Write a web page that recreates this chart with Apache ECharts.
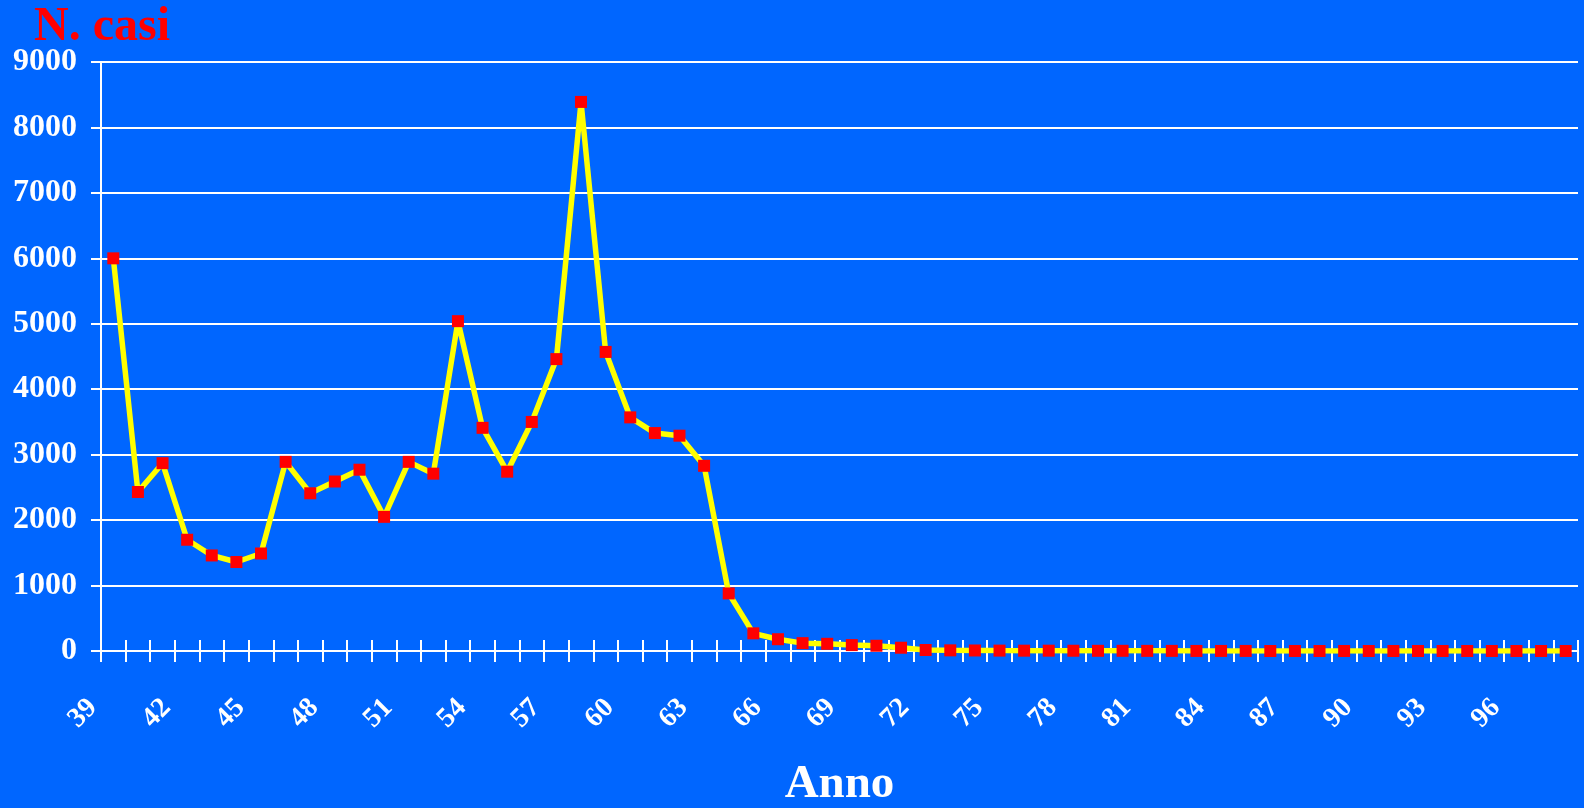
<!DOCTYPE html>
<html>
<head>
<meta charset="utf-8">
<script src="https://cdn.jsdelivr.net/npm/echarts@6/dist/echarts.min.js"></script>
<style>
html,body{margin:0;padding:0;background:#0066FF;}
#c{width:1584px;height:808px;}
</style>
</head>
<body>
<div id="c"></div>
<script>
const years = ['39','40','41','42','43','44','45','46','47','48','49','50','51','52','53','54','55','56','57','58','59','60','61','62','63','64','65','66','67','68','69','70','71','72','73','74','75','76','77','78','79','80','81','82','83','84','85','86','87','88','89','90','91','92','93','94','95','96','97','98'];
const cases = [6000,2430,2870,1700,1460,1360,1490,2890,2410,2590,2770,2050,2890,2710,5040,3410,2740,3500,4460,8390,4570,3570,3330,3290,2830,880,270,180,120,110,90,80,50,15,10,8,6,5,5,4,3,3,2,2,1,1,1,0,0,0,0,0,0,0,0,0,0,0,0,0];
const yTicks = [0,1000,2000,3000,4000,5000,6000,7000,8000,9000];
const titleY = 'N. casi';
const titleX = 'Anno';

const FONT = '"Liberation Serif","Times New Roman",serif';
const chart = echarts.init(document.getElementById('c'));
chart.setOption({
  backgroundColor: '#0066FF',
  animation: false,
  title: {
    text: titleY, left: 29, top: -1,
    textStyle: {color: '#FF0000', fontFamily: FONT, fontWeight: 'bold', fontSize: 48}
  },
  grid: {left: 101, right: 6, top: 62, bottom: 157, containLabel: false, outerBoundsMode: 'none'},
  xAxis: [{
    type: 'category', data: years, boundaryGap: true,
    name: titleX, nameLocation: 'middle', nameGap: 110,
    nameTextStyle: {color: '#FFFFFF', fontFamily: FONT, fontWeight: 'bold', fontSize: 47},
    axisLine: {show: true, lineStyle: {color: '#FFFFFF', width: 2}},
    axisTick: {show: true, interval: 0, length: 11, lineStyle: {color: '#FFFFFF', width: 2}},
    axisLabel: {
      interval: 2, rotate: 45, margin: 32, color: '#FFFFFF', fontFamily: FONT,
      fontWeight: 'bold', fontSize: 28, padding: [0, 29, 0, 0]
    },
    splitLine: {show: false}
  }, {
    type: 'category', data: years, boundaryGap: true, position: 'bottom',
    axisLine: {show: false},
    axisTick: {show: true, inside: true, interval: 0, length: 11, lineStyle: {color: '#FFFFFF', width: 2}},
    axisLabel: {show: false},
    splitLine: {show: false}
  }],
  yAxis: {
    type: 'value', min: 0, max: 9000, interval: 1000,
    axisLine: {show: true, lineStyle: {color: '#FFFFFF', width: 2}},
    axisTick: {show: true, length: 10, lineStyle: {color: '#FFFFFF', width: 2}},
    axisLabel: {
      margin: 24, color: '#FFFFFF', fontFamily: FONT, fontWeight: 'bold', fontSize: 32,
      formatter: v => yTicks.includes(v) ? String(v) : ''
    },
    splitLine: {show: true, lineStyle: {color: '#FFFFFF', width: 2}}
  },
  series: [{
    type: 'line', data: cases, xAxisIndex: 0,
    lineStyle: {color: '#FFFF00', width: 5.5},
    itemStyle: {color: '#FF0000'},
    symbol: 'rect', symbolSize: 12, showSymbol: true
  }]
});
</script>
</body>
</html>
